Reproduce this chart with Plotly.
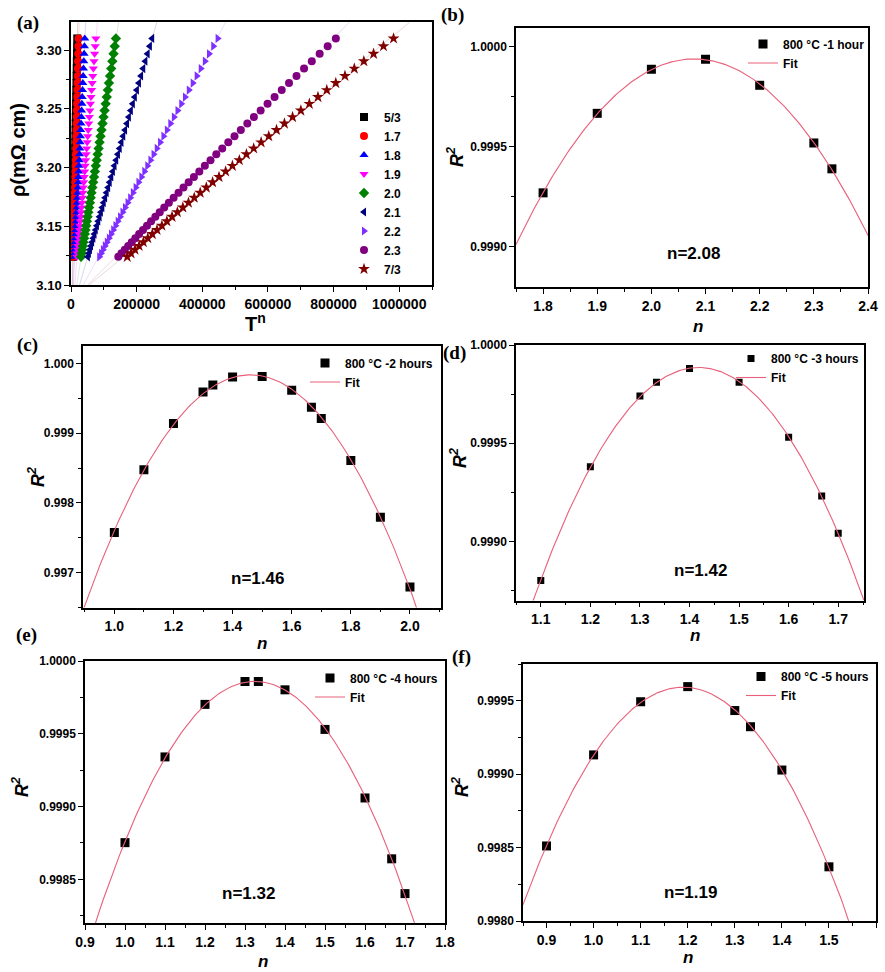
import numpy as np
import plotly.graph_objects as go

W, H = 885, 972

# ---------------- Panel (a) data ----------------
T_K = [175, 180, 185, 190, 195, 200, 205, 210, 215, 220, 225, 230, 235, 240, 245,
       250, 255, 260, 265, 270, 275, 280, 285, 290, 295, 300, 305, 310, 315, 320,
       325, 330, 335, 340, 345, 350, 355, 360, 365, 370]
rho = [3.1240, 3.1270, 3.1301, 3.1333, 3.1365, 3.1399, 3.1434, 3.1469, 3.1505, 3.1543,
       3.1581, 3.1620, 3.1660, 3.1701, 3.1743, 3.1786, 3.1830, 3.1875, 3.1920, 3.1967,
       3.2015, 3.2063, 3.2113, 3.2163, 3.2215, 3.2267, 3.2320, 3.2375, 3.2430, 3.2486,
       3.2543, 3.2601, 3.2660, 3.2720, 3.2781, 3.2843, 3.2906, 3.2969, 3.3034, 3.3100]
a_labels = ["5/3", "1.7", "1.8", "1.9", "2.0", "2.1", "2.2", "2.3", "7/3"]
a_exps = [5/3, 1.7, 1.8, 1.9, 2.0, 2.1, 2.2, 2.3, 7/3]
a_colors = ["#000000", "#ff0000", "#0000ff", "#ff00ff", "#008000", "#000080",
            "#7f2fff", "#800080", "#800000"]
a_symbols = ["square", "circle", "triangle-up", "triangle-down", "diamond",
             "triangle-left", "triangle-right", "circle", "star"]

# ---------------- Panels (b)-(f) data ----------------
b_n = [1.8, 1.9, 2.0, 2.1, 2.2, 2.3, 7/3]
b_r2 = [0.99927, 0.999667, 0.999887, 0.999937, 0.999807, 0.999519, 0.99939]
c_n = [1.0, 1.1, 1.2, 1.3, 4/3, 1.4, 1.5, 1.6, 5/3, 1.7, 1.8, 1.9, 2.0]
c_r2 = [0.997574, 0.998474, 0.999139, 0.999589, 0.999689, 0.999804, 0.999813,
        0.999617, 0.999373, 0.999211, 0.998608, 0.997794, 0.996794]
d_n = [1.1, 1.2, 1.3, 4/3, 1.4, 1.5, 1.6, 5/3, 1.7]
d_r2 = [0.998802, 0.999381, 0.999741, 0.99981, 0.99988, 0.99981, 0.999531,
        0.999232, 0.999042]
e_n = [1.0, 1.1, 1.2, 1.3, 4/3, 1.4, 1.5, 1.6, 5/3, 1.7]
e_r2 = [0.998752, 0.999341, 0.999702, 0.999859, 0.999859, 0.999802, 0.99953,
        0.999059, 0.998641, 0.998402]
f_n = [0.9, 1.0, 1.1, 1.2, 1.3, 4/3, 1.4, 1.5]
f_r2 = [0.998511, 0.999131, 0.999493, 0.999596, 0.999433, 0.999323, 0.999028, 0.998369]

legend_texts = ["800 \u00b0C -1 hour", "800 \u00b0C -2 hours", "800 \u00b0C -3 hours",
                "800 \u00b0C -4 hours", "800 \u00b0C -5 hours"]
n_texts = ["n=2.08", "n=1.46", "n=1.42", "n=1.32", "n=1.19"]

FONT = "Liberation Sans, Arial, sans-serif"
SERIF = "Liberation Serif, Times New Roman, serif"


def px(x):
    return x / W


def py(y):
    return 1 - y / H


fig = go.Figure()

# panel geometry in pixels: (left, right, top, bottom)
boxes = {
    "a": (71, 432, 22, 285),
    "b": (516, 868, 28, 287),
    "c": (83, 440.7, 346, 607.5),
    "d": (516, 864, 345, 600.5),
    "e": (85, 445, 661, 923),
    "f": (523, 876, 664, 921),
}
ax_ids = {"a": ("x", "y", "xaxis", "yaxis"),
          "b": ("x2", "y2", "xaxis2", "yaxis2"),
          "c": ("x3", "y3", "xaxis3", "yaxis3"),
          "d": ("x4", "y4", "xaxis4", "yaxis4"),
          "e": ("x5", "y5", "xaxis5", "yaxis5"),
          "f": ("x6", "y6", "xaxis6", "yaxis6")}

# ---------- Panel (a) ----------
T_arr = np.array(T_K, dtype=float)
rho_arr = np.array(rho)
for lab, ex, col, sym in zip(a_labels, a_exps, a_colors, a_symbols):
    xs = T_arr ** ex
    # faint linear fit line
    k, b0 = np.polyfit(xs, rho_arr, 1)
    yl = np.array([3.095, 3.33])
    xl = (yl - b0) / k
    fig.add_trace(go.Scatter(x=xl, y=yl, mode="lines", xaxis="x", yaxis="y",
                             line=dict(color=col, width=1), opacity=0.15,
                             showlegend=False, hoverinfo="skip"))
for lab, ex, col, sym in zip(a_labels, a_exps, a_colors, a_symbols):
    xs = T_arr ** ex
    fig.add_trace(go.Scatter(x=xs, y=rho_arr, mode="markers", name=lab,
                             xaxis="x", yaxis="y", legend="legend",
                             marker=dict(symbol=sym, color=col, size=8 if sym != "star" else 9,
                                         line=dict(width=0))))

# ---------- Panels (b)-(f) ----------
panels = [("b", b_n, b_r2, [1.75, 2.4], [0.99880, 1.000093], 0.1, 0.0005, ".4f", 9),
          ("c", c_n, c_r2, [0.894, 2.104], [0.99650, 1.00025], 0.2, 0.001, ".3f", 9),
          ("d", d_n, d_r2, [1.05, 1.752], [0.99870, 1.0], 0.1, 0.0005, ".4f", 7),
          ("e", e_n, e_r2, [0.9, 1.8], [0.99820, 1.0], 0.1, 0.0005, ".4f", 9),
          ("f", f_n, f_r2, [0.85, 1.6], [0.99800, 0.99975], 0.1, 0.0005, ".4f", 9)]

for i, (key, nn, rr, xr, yr, xdt, ydt, yfmt, msz) in enumerate(panels):
    xa, ya, _, _ = ax_ids[key]
    lg = "legend%d" % (i + 2)
    fig.add_trace(go.Scatter(x=nn, y=rr, mode="markers", name=legend_texts[i],
                             xaxis=xa, yaxis=ya, legend=lg,
                             marker=dict(symbol="square", color="black", size=msz)))
    coef = np.polyfit(nn, rr, 2)
    xf = np.linspace(xr[0], xr[1], 200)
    yf = np.polyval(coef, xf)
    fig.add_trace(go.Scatter(x=xf, y=yf, mode="lines", name="Fit",
                             xaxis=xa, yaxis=ya, legend=lg,
                             line=dict(color="#e8607a", width=1.1)))

layout = dict(width=W, height=H, margin=dict(l=0, r=0, t=0, b=0, autoexpand=False),
              paper_bgcolor="white", plot_bgcolor="white", showlegend=True,
              font=dict(family=FONT, color="black"))

axis_common = dict(showline=True, linecolor="black", linewidth=1.5, mirror=True,
                   ticks="outside", ticklen=5, tickwidth=1.3, tickcolor="black",
                   showgrid=False, zeroline=False)


def dom(key):
    l, r, t, b = boxes[key]
    return [px(l), px(r)], [py(b), py(t)]


# panel (a) axes
xd, yd = dom("a")
layout["xaxis"] = dict(axis_common, domain=xd, anchor="y", range=[0, 1.1e6],
                       dtick=200000, tickformat="d",
                       tickfont=dict(size=14, family=FONT, weight="bold"),
                       minor=dict(ticks="outside", ticklen=3, tickwidth=1, dtick=100000,
                                  tickcolor="black"))
layout["yaxis"] = dict(axis_common, domain=yd, anchor="x", range=[3.10, 3.324],
                       dtick=0.05, tickformat=".2f",
                       tickfont=dict(size=13, family=FONT, weight="bold"),
                       minor=dict(ticks="outside", ticklen=3, tickwidth=1, dtick=0.025,
                                  tickcolor="black"))

for i, (key, nn, rr, xr, yr, xdt, ydt, yfmt, msz) in enumerate(panels):
    xa, ya, xk, yk = ax_ids[key]
    xd, yd = dom(key)
    layout[xk] = dict(axis_common, domain=xd, anchor=ya, range=xr, dtick=xdt,
                      tickformat=".1f",
                      tickfont=dict(size=14, family=FONT, weight="bold"),
                      minor=dict(ticks="outside", ticklen=3, tickwidth=1, dtick=xdt / 2,
                                 tickcolor="black"))
    layout[yk] = dict(axis_common, domain=yd, anchor=xa, range=yr, dtick=ydt,
                      tickformat=yfmt,
                      tickfont=dict(size=12, family=FONT, weight="bold"),
                      minor=dict(ticks="outside", ticklen=3, tickwidth=1, dtick=ydt / 2,
                                 tickcolor="black"))

# legends
layout["legend"] = dict(x=px(344), y=py(102.5), xanchor="left", yanchor="top",
                        bgcolor="rgba(0,0,0,0)", itemwidth=30,
                        font=dict(size=12, family=FONT, weight="bold"),
                        tracegroupgap=0)
leg_pos = {"legend2": (743, 29.5), "legend3": (305, 348.5), "legend4": (731, 344),
           "legend5": (310, 663.5), "legend6": (741, 662)}
for lg, (lx, ly) in leg_pos.items():
    layout[lg] = dict(x=px(lx), y=py(ly), xanchor="left", yanchor="top",
                      bgcolor="rgba(0,0,0,0)", itemwidth=30,
                      font=dict(size=12, family=FONT, weight="bold"),
                      tracegroupgap=0)

annotations = []


def ann(text, x, y, size, family=FONT, bold=True, italic=False, angle=0):
    annotations.append(dict(text=text, x=px(x), y=py(y), xref="paper", yref="paper",
                            showarrow=False, xanchor="center", yanchor="middle",
                            textangle=angle,
                            font=dict(size=size, family=family, color="black",
                                      weight="bold" if bold else "normal",
                                      style="italic" if italic else "normal")))


# panel labels
for t, x, y in [("(a)", 28, 23), ("(b)", 452, 15), ("(c)", 27, 345),
                ("(d)", 454, 353), ("(e)", 26, 635), ("(f)", 461, 657)]:
    ann(t, x, y, 19, family=SERIF)

# axis titles
ann("\u03c1(m\u03a9 cm)", 18, 150, 20, angle=-90)
ann("T<sup>n</sup>", 255, 322, 20)
for x, y in [(455, 157), (37, 477), (458, 458), (20, 787), (460, 787)]:
    ann("<i>R</i><sup>2</sup>", x, y, 18, italic=True, angle=-90)
for x, y in [(698, 326), (262, 643), (695, 635), (263, 961), (688, 957)]:
    ann("n", x, y, 17, italic=True)
for t, (x, y) in zip(n_texts, [(693, 253), (257, 578), (700, 570), (248, 893), (690, 892)]):
    ann(t, x, y, 17)

layout["annotations"] = annotations
fig.update_layout(**layout)
fig.write_html("out.html")
